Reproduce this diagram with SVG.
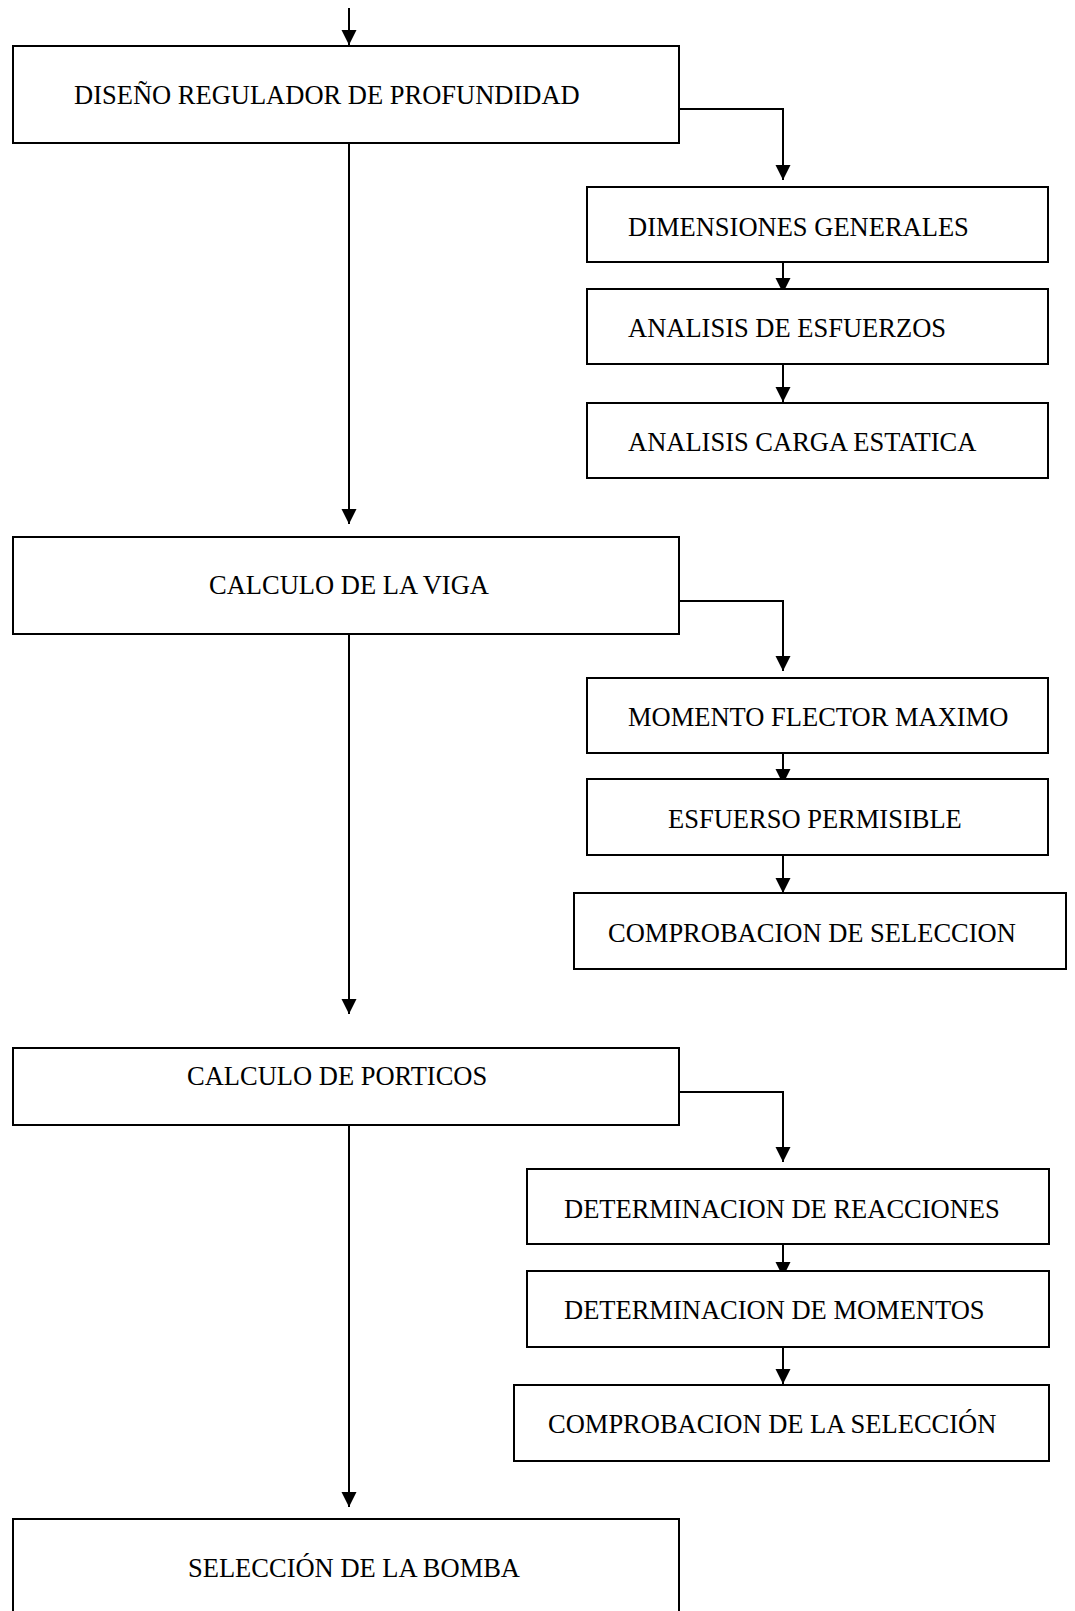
<svg xmlns="http://www.w3.org/2000/svg" width="1075" height="1611" viewBox="0 0 1075 1611">
<style>
.box{fill:#fff;stroke:#000;stroke-width:2}
.lbl{font-family:"Liberation Serif","Times New Roman",serif;font-size:26.5px;fill:#000}
.ln{fill:none;stroke:#000;stroke-width:2}
</style>
<defs>
<marker id="ah" markerUnits="userSpaceOnUse" markerWidth="16" markerHeight="16" refX="15" refY="7.5" orient="auto">
<path d="M0,0 L15,7.5 L0,15 Z" fill="#000"/>
</marker>
</defs>
<rect x="0" y="0" width="1075" height="1611" fill="#fff"/>
<g id="connectors">
<line class="ln" x1="349" y1="8" x2="349" y2="45" marker-end="url(#ah)"/>
<line class="ln" x1="349" y1="143" x2="349" y2="524" marker-end="url(#ah)"/>
<line class="ln" x1="349" y1="634" x2="349" y2="1014" marker-end="url(#ah)"/>
<line class="ln" x1="349" y1="1125" x2="349" y2="1507" marker-end="url(#ah)"/>
<polyline class="ln" points="679,109 783,109 783,180" marker-end="url(#ah)"/>
<line class="ln" x1="783" y1="257" x2="783" y2="293" marker-end="url(#ah)"/>
<line class="ln" x1="783" y1="364" x2="783" y2="402" marker-end="url(#ah)"/>
<polyline class="ln" points="679,601 783,601 783,671" marker-end="url(#ah)"/>
<line class="ln" x1="783" y1="748" x2="783" y2="784" marker-end="url(#ah)"/>
<line class="ln" x1="783" y1="855" x2="783" y2="893" marker-end="url(#ah)"/>
<polyline class="ln" points="679,1092 783,1092 783,1162" marker-end="url(#ah)"/>
<line class="ln" x1="783" y1="1240" x2="783" y2="1277" marker-end="url(#ah)"/>
<line class="ln" x1="783" y1="1347" x2="783" y2="1384" marker-end="url(#ah)"/>
</g>
<g id="n1"><rect class="box" x="13" y="46" width="666" height="97"/><text class="lbl" x="74" y="104">DISEÑO REGULADOR DE PROFUNDIDAD</text></g>
<g id="n2"><rect class="box" x="587" y="187" width="461" height="75"/><text class="lbl" x="628" y="236">DIMENSIONES GENERALES</text></g>
<g id="n3"><rect class="box" x="587" y="289" width="461" height="75"/><text class="lbl" x="628" y="337">ANALISIS DE ESFUERZOS</text></g>
<g id="n4"><rect class="box" x="587" y="403" width="461" height="75"/><text class="lbl" x="628" y="451">ANALISIS CARGA ESTATICA</text></g>
<g id="n5"><rect class="box" x="13" y="537" width="666" height="97"/><text class="lbl" x="209" y="594">CALCULO DE LA VIGA</text></g>
<g id="n6"><rect class="box" x="587" y="678" width="461" height="75"/><text class="lbl" x="628" y="726">MOMENTO FLECTOR MAXIMO</text></g>
<g id="n7"><rect class="box" x="587" y="779" width="461" height="76"/><text class="lbl" x="668" y="828">ESFUERSO PERMISIBLE</text></g>
<g id="n8"><rect class="box" x="574" y="893" width="492" height="76"/><text class="lbl" x="608" y="942">COMPROBACION DE SELECCION</text></g>
<g id="n9"><rect class="box" x="13" y="1048" width="666" height="77"/><text class="lbl" x="187" y="1085">CALCULO DE PORTICOS</text></g>
<g id="n10"><rect class="box" x="527" y="1169" width="522" height="75"/><text class="lbl" x="564" y="1218">DETERMINACION DE REACCIONES</text></g>
<g id="n11"><rect class="box" x="527" y="1271" width="522" height="76"/><text class="lbl" x="564" y="1319">DETERMINACION DE MOMENTOS</text></g>
<g id="n12"><rect class="box" x="514" y="1385" width="535" height="76"/><text class="lbl" x="548" y="1433">COMPROBACION DE LA SELECCIÓN</text></g>
<g id="n13"><rect class="box" x="13" y="1519" width="666" height="100"/><text class="lbl" x="188" y="1577">SELECCIÓN DE LA BOMBA</text></g>
</svg>
